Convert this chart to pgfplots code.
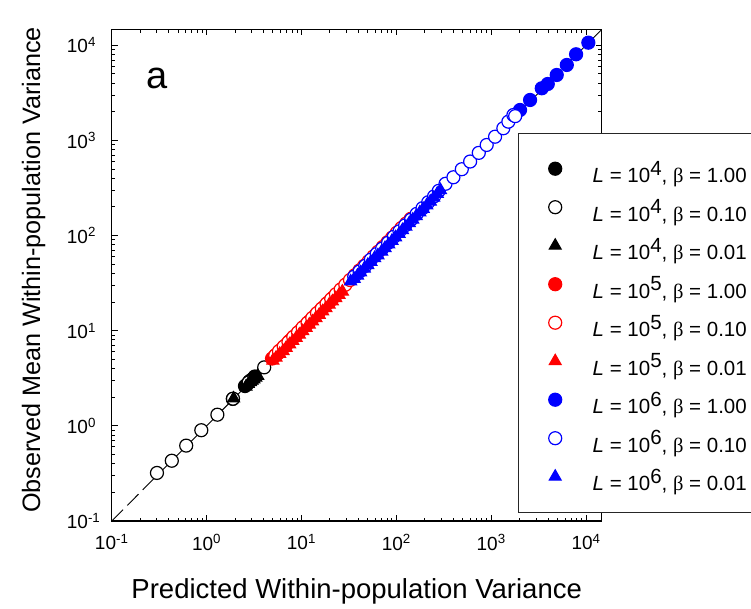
\documentclass[border=0pt]{standalone}
\usepackage{pgfplots}
\pgfplotsset{compat=1.18}
\usepackage{fontspec}
\setmainfont{Liberation Sans}
\newfontfamily\symb{Liberation Serif}
\definecolor{pblue}{RGB}{0,0,255}
\definecolor{pred}{RGB}{255,0,0}
\newcommand{\lent}[2]{\textit{L} = 10\raisebox{7.5pt}{#1}, {\symb β} = #2}
\begin{document}
\begin{tikzpicture}
\begin{axis}[name=ax, scale only axis, width=490pt, height=491.7pt,
  xmode=log, ymode=log, xmin=0.1, xmax=14620, ymin=0.1, ymax=14720,
  axis line style={line width=1.2pt},
  tick align=inside, xtick pos=both, ytick pos=both,
  major tick length=6pt, minor tick length=3.5pt,
  tick style={black, line width=1pt},
  xtick={0.1,1,10,100,1000,10000},
  ytick={0.1,1,10,100,1000,10000},
  minor xtick={0.2,0.3,0.4,0.5,0.6,0.7,0.8,0.9,2,3,4,5,6,7,8,9,20,30,40,50,60,70,80,90,200,300,400,500,600,700,800,900,2000,3000,4000,5000,6000,7000,8000,9000},
  minor ytick={0.2,0.3,0.4,0.5,0.6,0.7,0.8,0.9,2,3,4,5,6,7,8,9,20,30,40,50,60,70,80,90,200,300,400,500,600,700,800,900,2000,3000,4000,5000,6000,7000,8000,9000},
  xticklabels={10\textsuperscript{-1},10\textsuperscript{0},10\textsuperscript{1},10\textsuperscript{2},10\textsuperscript{3},10\textsuperscript{4}},
  yticklabels={10\textsuperscript{-1},10\textsuperscript{0},10\textsuperscript{1},10\textsuperscript{2},10\textsuperscript{3},10\textsuperscript{4}},
  ticklabel style={font=\fontsize{19}{22}\selectfont},
  xticklabel style={anchor=north, yshift=-10pt},
  yticklabel style={anchor=west, inner sep=0pt, xshift=-45pt},
  xlabel={Predicted Within-population Variance},
  ylabel={Observed Mean Within-population Variance},
  xlabel style={font=\fontsize{27.5}{32}\selectfont, at={(axis description cs:0.5,0)}, anchor=base, yshift=-77pt},
  ylabel style={font=\fontsize{25.2}{30}\selectfont, at={(axis description cs:-0.1463,0.5105)}, anchor=base, rotate=0},
  legend cell align=left,
  legend style={at={(0.8286,0.7897)}, anchor=north west, draw=black!85, line width=1pt, fill=white,
    inner xsep=30.5pt, inner ysep=19.5pt, row sep=6.5pt, column sep=31pt,
    nodes={inner sep=0pt, text height=30pt, text depth=2pt, font=\fontsize{20.5}{24}\selectfont}},
]
% L=10^4, beta=1.00
\addplot[only marks, mark=*, mark size=6.5pt, mark options={draw=black, fill=black, line width=1.2pt}] coordinates {
(1.89,1.92) (2.54,2.62) (2.68,2.74) (2.82,2.93) (2.95,3.03) (3.08,3.12) (3.22,3.30)};
\addlegendentry{\lent{4}{1.00}}
% L=10^4, beta=0.10
\addplot[only marks, mark=*, mark size=6.5pt, mark options={draw=black, fill=white, line width=1.2pt}] coordinates {
(0.30,0.32) (0.43,0.43) (0.61,0.62) (0.88,0.90) (1.30,1.31) (1.90,1.93) (2.78,2.86) (4.05,4.12)};
\addlegendentry{\lent{4}{0.10}}
% L=10^4, beta=0.01
\addplot[only marks, mark=triangle*, mark size=7pt, mark options={draw=black, fill=black, line width=1pt}] coordinates {
(1.93,1.94) (2.60,2.58) (2.75,2.76) (2.90,2.88) (3.02,2.98) (3.15,3.08) (3.30,3.22) (3.46,3.36)};
\addlegendentry{\lent{4}{0.01}}
% L=10^5, beta=1.00
\addplot[only marks, mark=*, mark size=6.5pt, mark options={draw=pred, fill=pred, line width=1.2pt}] coordinates {
(4.9,5.1) (5.3,5.5) (5.7,5.8) (6.1,6.3) (6.6,6.8) (7.0,7.2) (7.5,7.8) (8.0,8.3) (8.6,8.8) (9.2,9.5) (9.9,10.2) (10.6,11.0) (11.4,11.7) (12.2,12.6) (13.1,13.5) (14.1,14.6) (15.1,15.5) (16.2,16.8) (17.4,17.9) (18.7,19.4) (20.1,20.6) (21.6,22.3) (23.2,23.9)};
\addlegendentry{\lent{5}{1.00}}
% L=10^5, beta=0.10
\addplot[only marks, mark=*, mark size=6.5pt, mark options={draw=pred, fill=white, line width=1.2pt}] coordinates {
(5.3,5.5) (5.8,6.1) (6.5,6.8) (7.3,7.6) (8.2,8.6) (9.2,9.6) (10.3,10.8) (11.6,12.1) (13.0,13.6) (14.6,15.3) (16.4,17.1) (18.4,19.2) (20.6,21.5) (23.1,24.2) (25.9,27.1) (29.0,30.4) (32.5,34.1) (36.4,38.2) (40.8,42.9) (45.7,48.0) (51.2,53.8) (57.4,60.3) (64.3,67.6) (72.0,75.8) (80.7,85.0) (90.4,95.2) (101,107) (113,120) (127,134) (142,150)};
\addlegendentry{\lent{5}{0.10}}
% L=10^5, beta=0.01
\addplot[only marks, mark=triangle*, mark size=7pt, mark options={draw=pred, fill=pred, line width=1pt}] coordinates {
(5.0,4.85) (5.4,5.2) (5.9,5.7) (6.4,6.1) (6.9,6.6) (7.5,7.2) (8.1,7.8) (8.8,8.4) (9.5,9.1) (10.3,9.9) (11.2,10.7) (12.1,11.6) (13.1,12.5) (14.2,13.6) (15.4,14.7) (16.7,16.0) (18.1,17.3) (19.6,18.8) (21.2,20.3) (23.0,22.0) (24.9,23.8) (27.0,25.8)};
\addlegendentry{\lent{5}{0.01}}
% 1:1 line
\addplot[forget plot, black, line width=0.9pt, dash pattern=on 16pt off 6pt] coordinates {(0.1,0.1) (14620,14620)};
% L=10^6, beta=1.00
\addplot[only marks, mark=*, mark size=6.5pt, mark options={draw=pblue, fill=pblue, line width=1.2pt}] coordinates {
(2014,2089) (2570,2661) (3413,3532) (3948,3920) (4909,4875) (6266,6209) (7853,8040) (10570,10650)};
\addlegendentry{\lent{6}{1.00}}
% L=10^6, beta=0.10
\addplot[only marks, mark=*, mark size=6.5pt, mark options={draw=pblue, fill=white, line width=1.2pt}] coordinates {
(36,37) (41,42) (47,48) (54,56) (62,64) (71,73) (82,84) (94,97) (108,111) (124,128) (143,147) (164,169) (189,194) (217,224) (250,258) (280,295) (330,350) (400,410) (490,498) (600,600) (740,740) (897,896) (1099,1094) (1343,1342) (1517,1574) (1714,1849) (1790,1800)};
\addlegendentry{\lent{6}{0.10}}
% L=10^6, beta=0.01
\addplot[only marks, mark=triangle*, mark size=7pt, mark options={draw=pblue, fill=pblue, line width=1pt}] coordinates {
(33,33) (36,35) (39,38) (42,41) (46,45) (50,49) (54,53) (59,58) (64,62) (70,68) (76,74) (83,81) (90,88) (98,96) (107,104) (116,114) (126,124) (137,135) (149,147) (162,160) (177,175) (192,191) (209,208) (228,228) (248,250) (270,275) (292,300)};
\addlegendentry{\lent{6}{0.01}}
\node[anchor=base west, font=\fontsize{38}{44}\selectfont] at (axis description cs:0.0639,0.8786) {a};
\end{axis}
\pgfresetboundingbox
\useasboundingbox ([shift={(-111.7pt,-87pt)}]ax.south west) rectangle ([shift={(149.3pt,29.3pt)}]ax.north east);
\end{tikzpicture}
\end{document}
